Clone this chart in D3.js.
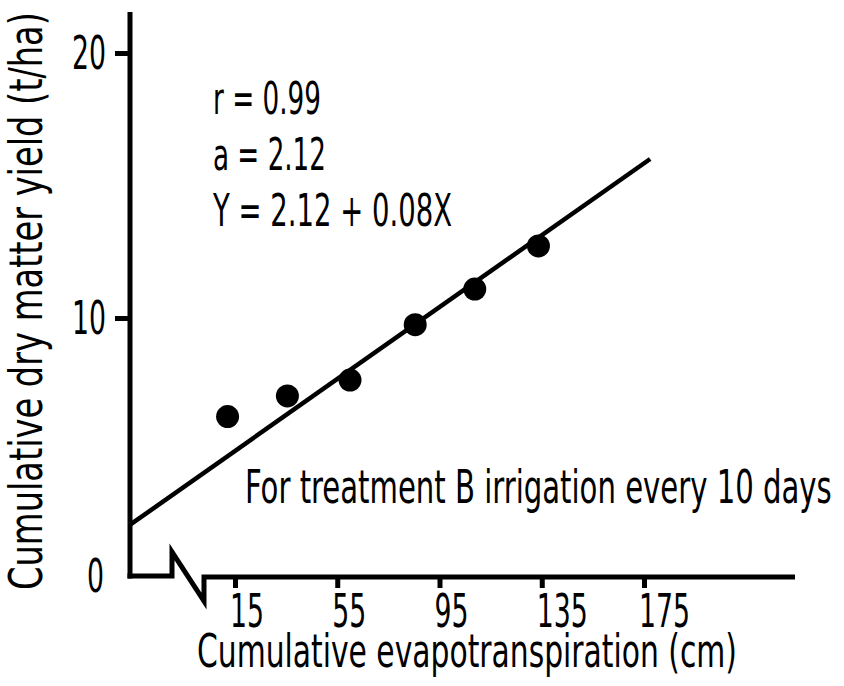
<!DOCTYPE html>
<html>
<head>
<meta charset="utf-8">
<script src="https://cdn.jsdelivr.net/npm/d3@7"></script>
<style>
  html, body { margin: 0; padding: 0; background: #fff; }
  svg { display: block; }
  text { font-family: "Liberation Sans Narrow", "DejaVu Sans Condensed", "Open Sans", sans-serif; fill: #000; }
</style>
</head>
<body>
<svg id="chart" width="844" height="686"></svg>
<script>
// Cumulative evapotranspiration (cm) vs cumulative dry matter yield (t/ha)
const obsET = [12.1, 35.5, 60.0, 85.5, 108.8, 133.7];
const obsYield = [6.28, 7.06, 7.66, 9.75, 11.09, 12.72];

// Fitted line as drawn, end points
const fitET = [-26.0, 177.4];
const fitYield = [2.2, 16.0];

const xTicks = [15, 55, 95, 135, 175];
const yTicks = [20, 10];
const yZeroLabel = "0";

const statLines = ["r = 0.99", "a = 2.12", "Y = 2.12 + 0.08X"];
const noteText = "For treatment B irrigation every 10 days";
const xTitle = "Cumulative evapotranspiration (cm)";
const yTitle = "Cumulative dry matter yield (t/ha)";

const svg = d3.select("#chart");

const x = d3.scaleLinear().domain([15, 175]).range([235, 644]);
const y = d3.scaleLinear().domain([0, 20]).range([583, 53]);

const axisX = 130;      // y axis position
const baseY = 576;      // x axis line position
const lw = 5;
const charW = 17;       // digit advance for tick labels
const tickFont = "46px";
const textFont = "46px";

// Draw a text condensed horizontally to a given width, anchored at its start (or end)
function condensedText(parent, str, px, py, width, size, opts = {}) {
  const g = parent.append("g");
  const t = g.append("text").style("font-size", size).text(str);
  const natural = t.node().getComputedTextLength();
  const sx = width / natural;
  const dx = opts.anchor === "end" ? -width : 0;
  const rot = opts.rotate ? ` rotate(${opts.rotate})` : "";
  g.attr("transform", `translate(${px},${py})${rot} translate(${dx},0) scale(${sx},1)`);
  return g;
}

// y axis line
svg.append("line")
  .attr("x1", axisX).attr("x2", axisX)
  .attr("y1", 12).attr("y2", baseY + lw / 2)
  .attr("stroke", "#000").attr("stroke-width", lw);

// y ticks
const yAxis = d3.axisLeft(y).tickValues(yTicks).tickSize(15).tickFormat("");
const gy = svg.append("g").attr("transform", `translate(${axisX},0)`).call(yAxis);
gy.select(".domain").remove();
gy.selectAll(".tick line").attr("stroke", "#000").attr("stroke-width", lw);
gy.selectAll(".tick text").remove();
yTicks.forEach(v => {
  condensedText(svg, String(v), 106, y(v) + 16, String(v).length * charW, tickFont, { anchor: "end" });
});
condensedText(svg, yZeroLabel, 104, baseY + 16, charW, tickFont, { anchor: "end" });

// x axis with break
const brk = d3.path();
brk.moveTo(axisX - lw / 2, baseY);
brk.lineTo(172, baseY);
brk.lineTo(172, 552);
brk.lineTo(204, 601);
brk.lineTo(204, baseY + 1);
brk.lineTo(795, baseY + 1);
svg.append("path")
  .attr("d", brk.toString())
  .attr("fill", "none")
  .attr("stroke", "#000")
  .attr("stroke-width", lw)
  .attr("stroke-linejoin", "miter")
  .attr("stroke-miterlimit", 10);

// x ticks
const xAxis = d3.axisBottom(x).tickValues(xTicks).tickSize(11).tickFormat("");
const gx = svg.append("g").attr("transform", `translate(0,${baseY + 1})`).call(xAxis);
gx.select(".domain").remove();
gx.selectAll(".tick line").attr("stroke", "#000").attr("stroke-width", lw);
gx.selectAll(".tick text").remove();
xTicks.forEach(v => {
  condensedText(svg, String(v), x(v) - 5, 627, String(v).length * charW, tickFont);
});

// fitted line
svg.append("line")
  .attr("x1", x(fitET[0])).attr("y1", y(fitYield[0]))
  .attr("x2", x(fitET[1])).attr("y2", y(fitYield[1]))
  .attr("stroke", "#000").attr("stroke-width", 4.5);

// observations
svg.selectAll("circle.obs")
  .data(obsET.map((d, i) => [d, obsYield[i]]))
  .join("circle")
  .attr("class", "obs")
  .attr("cx", d => x(d[0]))
  .attr("cy", d => y(d[1]))
  .attr("r", 11.5)
  .attr("fill", "#000");

// statistics
const statWidths = [108, 113, 239];
statLines.forEach((s, i) => {
  condensedText(svg, s, 213, 114 + i * 56, statWidths[i], "44px");
});

// treatment note
condensedText(svg, noteText, 245, 503, 587, textFont);

// axis titles
condensedText(svg, xTitle, 197, 667, 540, textFont);
condensedText(svg, yTitle, 42, 590, 578, textFont, { rotate: -90 });
</script>
</body>
</html>
